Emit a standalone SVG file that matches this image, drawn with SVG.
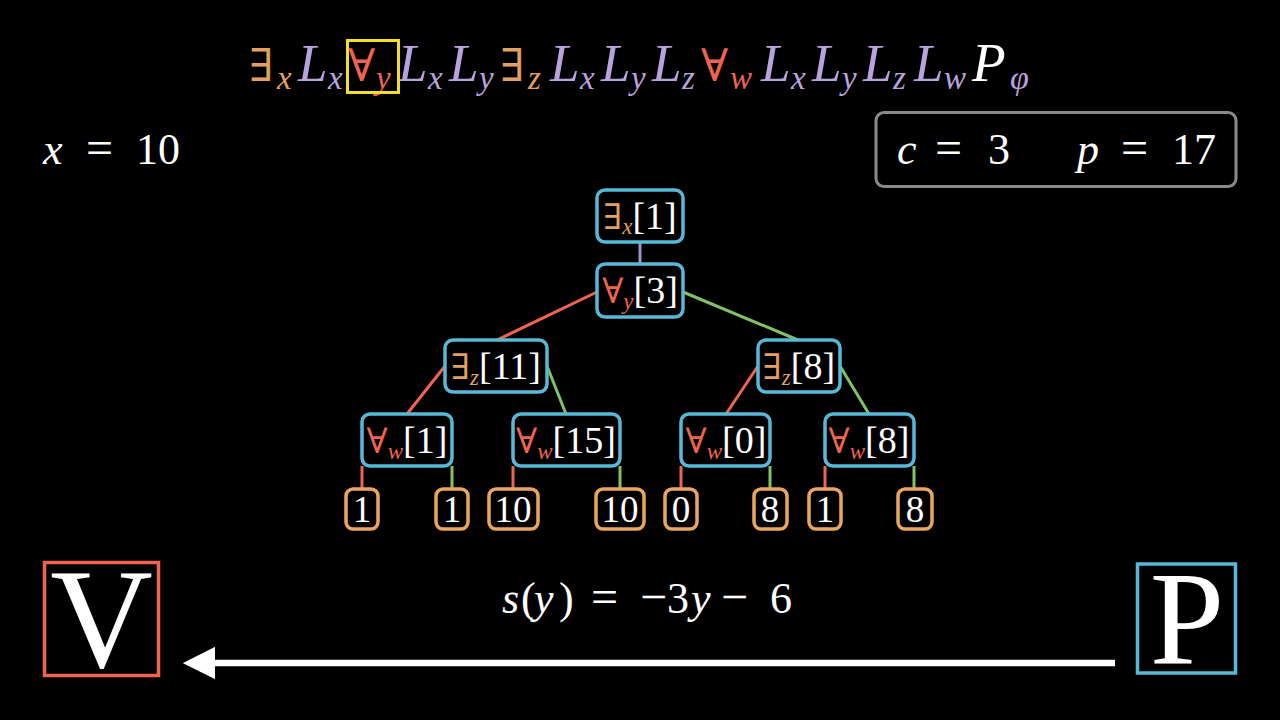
<svg xmlns="http://www.w3.org/2000/svg" width="1280" height="720" viewBox="0 0 1280 720">
<defs>
<style>
.bg{fill:#000}
.node rect{fill:#000;stroke:#58B8D8;stroke-width:3.5}
.leaf rect{fill:#000;stroke:#EBA65E;stroke-width:3.5}
.lbl{font-family:"Liberation Serif","DejaVu Serif",serif;fill:#fff;font-size:38px}
.q{font-family:"DejaVu Serif",serif;font-size:35px}
.sub{font-family:"Liberation Serif",serif;font-style:italic;font-size:23px}
.leaf text{font-family:"Liberation Serif",serif;fill:#fff;font-size:37px;text-anchor:middle}
.m{font-family:"Liberation Serif","DejaVu Serif",serif;fill:#fff}
.it{font-style:italic}
.or{fill:#E4A060}
.pu{fill:#B9A3DE}
.rd{fill:#EE6450}
.er{stroke:#EE6450;stroke-width:3;fill:none}
.eg{stroke:#83C167;stroke-width:3;fill:none}
.ep{stroke:#A58FC8;stroke-width:3;fill:none}
</style>
<marker id="ah" viewBox="0 0 10 10" refX="1" refY="5" markerWidth="5" markerHeight="5" orient="auto-start-reverse" markerUnits="strokeWidth">
<path d="M0,0 L10,5 L0,10 z" fill="#fff"/>
</marker>
</defs>
<rect class="bg" x="0" y="0" width="1280" height="720"/>

<g id="formula">
<text class="m" font-size="53">
<tspan class="or" x="249" y="81" font-family="DejaVu Serif" font-size="45">∃</tspan>
<tspan class="or it" x="277" y="89" font-size="33">x</tspan>
<tspan class="pu it" x="298" y="81">L</tspan>
<tspan class="pu it" x="328" y="89" font-size="33">x</tspan>
<tspan class="rd" x="348" y="81" font-family="DejaVu Serif" font-size="45">∀</tspan>
<tspan class="rd it" x="376" y="89" font-size="33">y</tspan>
<tspan class="pu it" x="398" y="81">L</tspan>
<tspan class="pu it" x="428" y="89" font-size="33">x</tspan>
<tspan class="pu it" x="449" y="81">L</tspan>
<tspan class="pu it" x="479" y="89" font-size="33">y</tspan>
<tspan class="or" x="500" y="81" font-family="DejaVu Serif" font-size="45">∃</tspan>
<tspan class="or it" x="528" y="89" font-size="33">z</tspan>
<tspan class="pu it" x="550" y="81">L</tspan>
<tspan class="pu it" x="580" y="89" font-size="33">x</tspan>
<tspan class="pu it" x="601" y="81">L</tspan>
<tspan class="pu it" x="631" y="89" font-size="33">y</tspan>
<tspan class="pu it" x="652" y="81">L</tspan>
<tspan class="pu it" x="682" y="89" font-size="33">z</tspan>
<tspan class="rd" x="701" y="81" font-family="DejaVu Serif" font-size="45">∀</tspan>
<tspan class="rd it" x="730" y="89" font-size="33">w</tspan>
<tspan class="pu it" x="761" y="81">L</tspan>
<tspan class="pu it" x="791" y="89" font-size="33">x</tspan>
<tspan class="pu it" x="812" y="81">L</tspan>
<tspan class="pu it" x="842" y="89" font-size="33">y</tspan>
<tspan class="pu it" x="863" y="81">L</tspan>
<tspan class="pu it" x="893" y="89" font-size="33">z</tspan>
<tspan class="pu it" x="914" y="81">L</tspan>
<tspan class="pu it" x="944" y="89" font-size="33">w</tspan>
<tspan class="it" x="972" y="81" font-size="55">P</tspan>
<tspan class="pu it" x="1010" y="89" font-size="34">φ</tspan>
</text>
<rect x="347.5" y="40.5" width="51" height="52" fill="none" stroke="#F3DE2C" stroke-width="3"/>
</g>

<g id="xval">
<text class="m" font-size="44" y="164"><tspan class="it" x="43">x</tspan><tspan x="86" font-size="48">=</tspan><tspan x="136">10</tspan></text>
</g>

<g id="params">
<rect x="876" y="112.5" width="360" height="74" rx="8" fill="#000" stroke="#8A8A8A" stroke-width="3"/>
<text class="m" font-size="44" y="164"><tspan class="it" x="897">c</tspan><tspan x="935" font-size="48">=</tspan><tspan x="988">3</tspan><tspan class="it" x="1077">p</tspan><tspan x="1121" font-size="48">=</tspan><tspan x="1172">17</tspan></text>
</g>

<g id="connectors">
<line class="ep" x1="640" y1="242" x2="640" y2="264"/>
<line class="er" x1="597" y1="292" x2="497" y2="340"/>
<line class="eg" x1="683" y1="292" x2="798" y2="340"/>
<line class="er" x1="445" y1="366" x2="407" y2="414"/>
<line class="eg" x1="547" y1="366" x2="566" y2="414"/>
<line class="er" x1="758" y1="366" x2="726" y2="414"/>
<line class="eg" x1="840" y1="366" x2="869" y2="414"/>
<line class="er" x1="362" y1="466" x2="362" y2="489"/>
<line class="eg" x1="452" y1="466" x2="452" y2="489"/>
<line class="er" x1="513" y1="466" x2="513" y2="489"/>
<line class="eg" x1="620" y1="466" x2="620" y2="489"/>
<line class="er" x1="681" y1="466" x2="681" y2="489"/>
<line class="eg" x1="770" y1="466" x2="770" y2="489"/>
<line class="er" x1="825" y1="466" x2="825" y2="489"/>
<line class="eg" x1="914" y1="466" x2="914" y2="489"/>
<line x1="1115" y1="663" x2="212" y2="663" stroke="#fff" stroke-width="6.5" marker-end="url(#ah)"/>
</g>

<g id="n_ex" class="node"><rect x="597" y="190" width="86" height="52" rx="8"/>
<text class="lbl" x="640" y="229" text-anchor="middle"><tspan class="q or">∃</tspan><tspan class="sub or" dy="5">x</tspan><tspan dy="-5">[1]</tspan></text></g>
<g id="n_ay" class="node"><rect x="597" y="264" width="86" height="53" rx="8"/>
<text class="lbl" x="640" y="303" text-anchor="middle"><tspan class="q rd">∀</tspan><tspan class="sub rd" dy="6">y</tspan><tspan dy="-6">[3]</tspan></text></g>
<g id="n_ez11" class="node"><rect x="445" y="340" width="102" height="52" rx="8"/>
<text class="lbl" x="496" y="379" text-anchor="middle"><tspan class="q or">∃</tspan><tspan class="sub or" dy="6">z</tspan><tspan dy="-6">[11]</tspan></text></g>
<g id="n_ez8" class="node"><rect x="758" y="340" width="82" height="52" rx="8"/>
<text class="lbl" x="799" y="379" text-anchor="middle"><tspan class="q or">∃</tspan><tspan class="sub or" dy="6">z</tspan><tspan dy="-6">[8]</tspan></text></g>
<g id="n_aw1" class="node"><rect x="362" y="414" width="90" height="52" rx="8"/>
<text class="lbl" x="407" y="453" text-anchor="middle"><tspan class="q rd">∀</tspan><tspan class="sub rd" dy="6">w</tspan><tspan dy="-6">[1]</tspan></text></g>
<g id="n_aw15" class="node"><rect x="513" y="414" width="107" height="52" rx="8"/>
<text class="lbl" x="566" y="453" text-anchor="middle"><tspan class="q rd">∀</tspan><tspan class="sub rd" dy="6">w</tspan><tspan dy="-6">[15]</tspan></text></g>
<g id="n_aw0" class="node"><rect x="681" y="414" width="89" height="52" rx="8"/>
<text class="lbl" x="726" y="453" text-anchor="middle"><tspan class="q rd">∀</tspan><tspan class="sub rd" dy="6">w</tspan><tspan dy="-6">[0]</tspan></text></g>
<g id="n_aw8" class="node"><rect x="825" y="414" width="89" height="52" rx="8"/>
<text class="lbl" x="869" y="453" text-anchor="middle"><tspan class="q rd">∀</tspan><tspan class="sub rd" dy="6">w</tspan><tspan dy="-6">[8]</tspan></text></g>

<g id="l1" class="leaf"><rect x="346" y="489" width="32" height="40" rx="7"/><text x="362" y="522">1</text></g>
<g id="l2" class="leaf"><rect x="436" y="489" width="32" height="40" rx="7"/><text x="452" y="522">1</text></g>
<g id="l3" class="leaf"><rect x="489" y="489" width="49" height="40" rx="7"/><text x="513" y="522">10</text></g>
<g id="l4" class="leaf"><rect x="596" y="489" width="48" height="40" rx="7"/><text x="620" y="522">10</text></g>
<g id="l5" class="leaf"><rect x="665" y="489" width="32" height="40" rx="7"/><text x="681" y="522">0</text></g>
<g id="l6" class="leaf"><rect x="754" y="489" width="33" height="40" rx="7"/><text x="770" y="522">8</text></g>
<g id="l7" class="leaf"><rect x="809" y="489" width="32" height="40" rx="7"/><text x="825" y="522">1</text></g>
<g id="l8" class="leaf"><rect x="898" y="489" width="34" height="40" rx="7"/><text x="915" y="522">8</text></g>

<g id="formula_s">
<text class="m" font-size="44" y="613"><tspan class="it" x="502">s</tspan><tspan x="521">(</tspan><tspan class="it" x="534">y</tspan><tspan x="559">)</tspan><tspan x="591" font-size="48">=</tspan><tspan x="640" font-size="48">−</tspan><tspan x="667">3</tspan><tspan class="it" x="691">y</tspan><tspan x="721" font-size="48">−</tspan><tspan x="770">6</tspan></text>
</g>

<g id="V">
<rect x="44.5" y="562.5" width="114" height="113" fill="#000" stroke="#EE6450" stroke-width="3.5"/>
<text class="m" x="101.5" y="667" font-size="142" text-anchor="middle">V</text>
</g>
<g id="P">
<rect x="1137.5" y="564" width="98" height="109" fill="#000" stroke="#58B8D8" stroke-width="3.5"/>
<text class="m" x="1187" y="663" font-size="134" text-anchor="middle">P</text>
</g>
</svg>
